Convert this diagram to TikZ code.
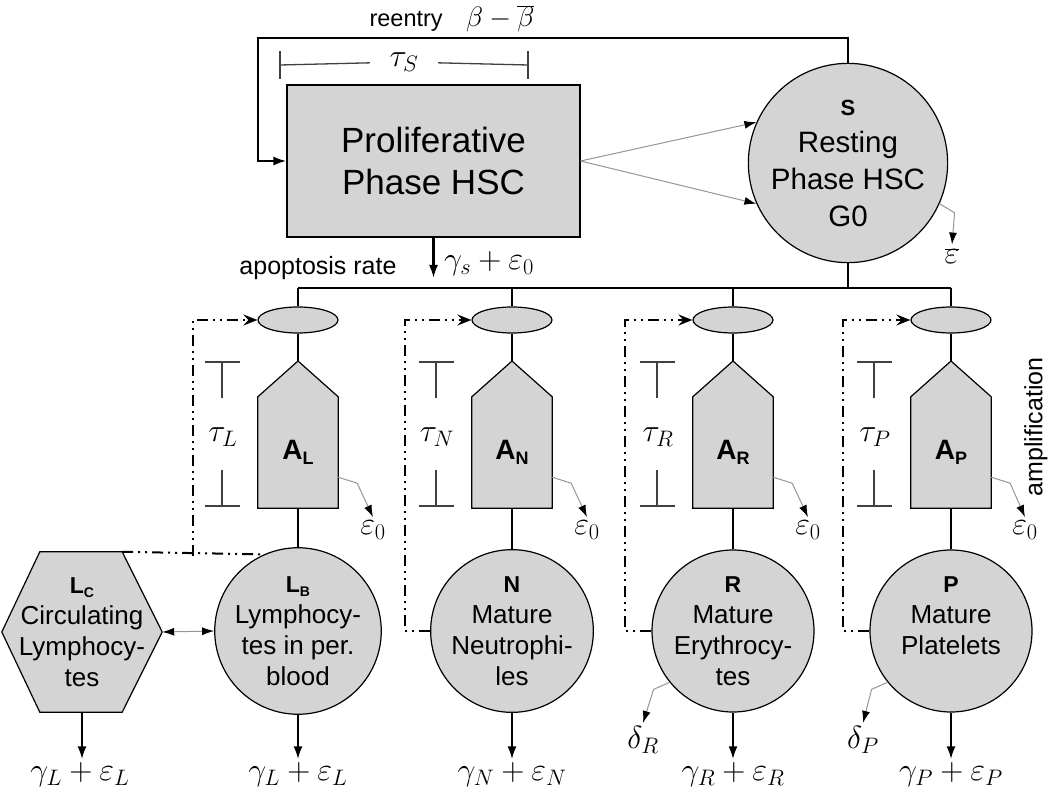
\RequirePackage{fix-cm}
\documentclass[tikz,border=0pt]{standalone}
\usepackage{fontspec}
\setmainfont{Liberation Sans}
\usetikzlibrary{arrows.meta,positioning,shapes.geometric}

\definecolor{cellgray}{RGB}{212,212,212}
\definecolor{leakgray}{RGB}{150,150,150}
\newcommand{\fsz}[2]{\fontsize{#1}{#2}\selectfont}
\newcommand{\popname}[4]{{\fsz{#3}{#3}\bfseries #1\raisebox{-0.35ex}{\fsz{#4}{#4}#2}}}

\begin{document}
\begin{tikzpicture}
    [
        x=1pt, y=-1pt,
        cell/.style={draw, fill=cellgray, line width=1.2pt, align=center, inner sep=0pt},
        skin/.style={draw, fill=cellgray, line width=1.2pt},
        outline/.style={draw, line width=1.2pt, line join=miter},
        round/.style={cell, circle, minimum size=162pt, font=\fsz{26}{31}},
        gate/.style={cell, ellipse, minimum width=80pt, minimum height=26pt},
        amp/.style={fill=cellgray, inner sep=0pt, minimum width=80pt, minimum height=111pt},
        flow/.style={line width=2.2pt},
        outflow/.style={flow, -{Latex[length=13pt,width=9pt]}},
        leak/.style={draw=leakgray, line width=1pt, -{Latex[black,length=12pt,width=8pt]}},
        twoway/.style={draw=leakgray, line width=1pt,
                       {Latex[black,length=12pt,width=8pt]}-{Latex[black,length=12pt,width=8pt]}},
        feedback/.style={line width=2pt, dash pattern=on 11pt off 5pt on 2pt off 5pt on 2pt off 5pt},
        fbtip/.style={-{Stealth[length=14pt,width=11pt,inset=5pt]}},
        bar/.style={line width=1.3pt, draw=black!75},
        rate/.style={font=\fsz{32}{36}},
    ]
    \useasboundingbox (0,0) rectangle (1050,794);

    % stem cells
    \node (prolif) at (433.5,161) [cell, minimum width=293pt, minimum height=152pt,
        font=\fsz{35}{42}] {Proliferative\\Phase HSC};
    \node (rest) at (848,163) [cell, circle, minimum size=180pt, font=\fsz{29.5}{37}]
        {\popname{S}{}{22}{14}\\Resting\\Phase HSC\\G0};

    \coordinate (reentry) at (258,38);
    \draw [flow, -{Latex[length=13pt,width=9pt]}] (rest.north) |- (reentry) |- (prolif.west);
    \node (reentrylbl) at (452,19) [font=\fsz{23.5}{26}] {reentry\quad{\fsz{28}{30}$\beta-\overline{\beta}$}};

    \coordinate (sL) at (280,65);
    \coordinate (sR) at (528,65);
    \node (tauS) at (404,62) [rate, minimum width=68pt] {$\tau_S$};
    \draw [bar] (sL) -- (tauS);
    \draw [bar] (tauS) -- (sR);
    \draw [bar] ([yshift=14pt]sL) -- ([yshift=-14pt]sL);
    \draw [bar] ([yshift=14pt]sR) -- ([yshift=-14pt]sR);

    \draw [leak] (prolif.east) -- (rest.156);
    \draw [leak] (prolif.east) -- (rest.204);
    \node (epsS) at (952,256) [rate] {$\overline{\varepsilon}$};
    \draw [leak] (rest.336) -- ++(15,9) -- (epsS.north);

    \coordinate (apo) at (433.5,278);
    \draw [outflow] (prolif.south) -- (apo);
    \node (apolbl) at (318,268) [font=\fsz{25}{30}] {apoptosis rate};
    \node (apomath) at (489,264) [rate] {$\gamma_s+\varepsilon_0$};

    % branching into the four lineages
    \node (gL) at (298,320) [gate] {};
    \node (gN) at (512,320) [gate] {};
    \node (gR) at (733,320) [gate] {};
    \node (gP) at (951,320) [gate] {};
    \coordinate (split) at (848,288);
    \draw [flow] (rest.south) -- (split);
    \draw [flow] (gL.north |- split) -- (gP.north |- split);
    \draw [flow] (gL.north |- split) -- (gL.north);
    \draw [flow] (gN.north |- split) -- (gN.north);
    \draw [flow] (gR.north |- split) -- (gR.north);
    \draw [flow] (gP.north |- split) -- (gP.north);

    % amplification compartments
    \coordinate (aLtip) at (298,361);
    \coordinate (aNtip) at (512,361);
    \coordinate (aRtip) at (733,361);
    \coordinate (aPtip) at (951,361);
    \node (aL) at (298,452.5) [amp] {\popname{A}{L}{28}{18}};
    \node (aN) at (512,452.5) [amp] {\popname{A}{N}{28}{18}};
    \node (aR) at (733,452.5) [amp] {\popname{A}{R}{28}{18}};
    \node (aP) at (951,452.5) [amp] {\popname{A}{P}{28}{18}};
    \fill [cellgray] (aL.north west) -- (aLtip) -- (aL.north east) -- cycle;
    \fill [cellgray] (aN.north west) -- (aNtip) -- (aN.north east) -- cycle;
    \fill [cellgray] (aR.north west) -- (aRtip) -- (aR.north east) -- cycle;
    \fill [cellgray] (aP.north west) -- (aPtip) -- (aP.north east) -- cycle;
    \draw [outline] (aL.south west) -- (aL.north west) -- (aLtip) -- (aL.north east) -- (aL.south east) -- cycle;
    \draw [outline] (aN.south west) -- (aN.north west) -- (aNtip) -- (aN.north east) -- (aN.south east) -- cycle;
    \draw [outline] (aR.south west) -- (aR.north west) -- (aRtip) -- (aR.north east) -- (aR.south east) -- cycle;
    \draw [outline] (aP.south west) -- (aP.north west) -- (aPtip) -- (aP.north east) -- (aP.south east) -- cycle;
    \draw [flow] (gL.south) -- (aLtip);
    \draw [flow] (gN.south) -- (aNtip);
    \draw [flow] (gR.south) -- (aRtip);
    \draw [flow] (gP.south) -- (aPtip);

    \node (ampl) at (1036,427) [rotate=90, font=\fsz{25}{30}] {amplification};

    % delays
    \node (tauL) at (223,437) [rate] {$\tau_L$};
    \node (tauN) at (437,437) [rate] {$\tau_N$};
    \node (tauR) at (658,437) [rate] {$\tau_R$};
    \node (tauP) at (875,437) [rate] {$\tau_P$};
    \draw [bar] (205,362) -- (240,362) (222,362) -- (222,398) (222,470) -- (222,506) (205,506) -- (240,506);
    \draw [bar] (419,362) -- (454,362) (436,362) -- (436,398) (436,470) -- (436,506) (419,506) -- (454,506);
    \draw [bar] (640,362) -- (675,362) (657,362) -- (657,398) (657,470) -- (657,506) (640,506) -- (675,506);
    \draw [bar] (857,362) -- (892,362) (874,362) -- (874,398) (874,470) -- (874,506) (857,506) -- (892,506);

    % loss in amplification
    \node (e0L) at (373,530) [rate] {$\varepsilon_0$};
    \node (e0N) at (587,530) [rate] {$\varepsilon_0$};
    \node (e0R) at (808,530) [rate] {$\varepsilon_0$};
    \node (e0P) at (1025,530) [rate] {$\varepsilon_0$};
    \draw [leak] ([yshift=31pt]aL.south east) -- ++(19,6) -- (e0L.north);
    \draw [leak] ([yshift=31pt]aN.south east) -- ++(19,6) -- (e0N.north);
    \draw [leak] ([yshift=31pt]aR.south east) -- ++(19,6) -- (e0R.north);
    \draw [leak] ([yshift=31pt]aP.south east) -- ++(19,6) -- (e0P.north);

    % mature cells
    \node (LC) at (82,632) [minimum width=160pt, minimum height=160pt] {};
    \draw [skin] (LC.west) -- ([xshift=38pt]LC.north west) -- ([xshift=-40pt]LC.north east)
        -- (LC.east) -- ([xshift=-40pt]LC.south east) -- ([xshift=38pt]LC.south west) -- cycle;
    \node (LCtext) at (LC) [align=center, font=\fsz{26}{31}]
        {\popname{L}{C}{23}{14}\\Circulating\\Lymphocy-\\tes};
    \node (LB) at (298,631) [round] {\popname{L}{B}{23}{14}\\Lymphocy-\\tes in per.\\blood};
    \node (N)  at (512,631) [round] {\popname{N}{}{23}{14}\\Mature\\Neutrophi-\\les};
    \node (R)  at (733,631) [round] {\popname{R}{}{23}{14}\\Mature\\Erythrocy-\\tes};
    \node (P)  at (951,631) [round] {\popname{P}{}{23}{14}\\Mature\\Platelets\\~};
    \draw [flow] (aL.south) -- (LB.north);
    \draw [flow] (aN.south) -- (N.north);
    \draw [flow] (aR.south) -- (R.north);
    \draw [flow] (aP.south) -- (P.north);
    \draw [twoway] (LC.east) -- (LB.west);

    % outflow
    \node (rLC) at (80,775)  [rate] {$\gamma_L+\varepsilon_L$};
    \node (rLB) at (298,775) [rate] {$\gamma_L+\varepsilon_L$};
    \node (rN)  at (512,775) [rate] {$\gamma_N+\varepsilon_N$};
    \node (rR)  at (733,775) [rate] {$\gamma_R+\varepsilon_R$};
    \node (rP)  at (951,775) [rate] {$\gamma_P+\varepsilon_P$};
    \draw [outflow] (LC.south) -- (LC.south |- rLC.north);
    \draw [outflow] (LB.south) -- (rLB.north);
    \draw [outflow] (N.south) -- (rN.north);
    \draw [outflow] (R.south) -- (rR.north);
    \draw [outflow] (P.south) -- (rP.north);

    \node (dR) at (643,740) [rate] {$\delta_R$};
    \node (dP) at (863,740) [rate] {$\delta_P$};
    \draw [leak] (R.219) -- ++(-16,7) -- (dR.north);
    \draw [leak] (P.219) -- ++(-16,7) -- (dP.north);

    % feedback
    \coordinate (fbL) at (193,556);
    \coordinate (fbN) at (405,320);
    \coordinate (fbR) at (625,320);
    \coordinate (fbP) at (843,320);
    \draw [feedback] ([xshift=-40pt]LC.north east) -- (LB.114);
    \draw [feedback, fbtip] (fbL) |- (gL.west);
    \draw [feedback, fbtip] (N.west) -| (fbN) -- (gN.west);
    \draw [feedback, fbtip] (R.west) -| (fbR) -- (gR.west);
    \draw [feedback, fbtip] (P.west) -| (fbP) -- (gP.west);
\end{tikzpicture}
\end{document}
